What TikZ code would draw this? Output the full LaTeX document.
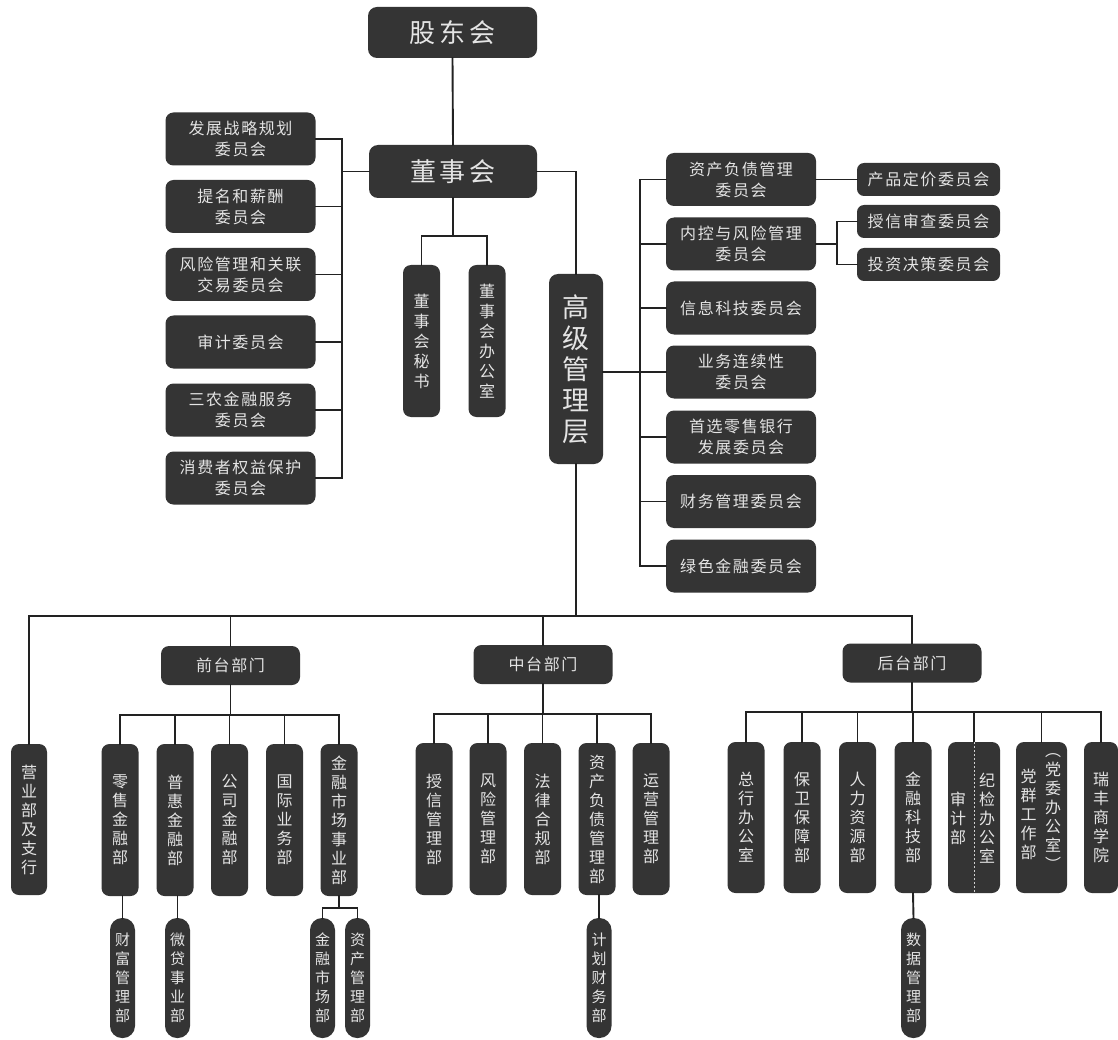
\documentclass[tikz,border=0pt]{standalone}
\usepackage{fontspec}
\newfontfamily\cjk{Noto Sans CJK SC}
\newfontfamily\cjks[LetterSpace=10]{Noto Sans CJK SC}
\newfontfamily\cjkb[LetterSpace=14]{Noto Sans CJK SC}
\definecolor{boxc}{HTML}{343434}
\definecolor{txtc}{HTML}{E4E4E4}
\definecolor{linec}{HTML}{222222}
\tikzset{
 base/.style={fill=boxc, text=txtc, inner sep=0pt, align=center, draw=none},
 hbox/.style={base, rounded corners=8pt, minimum width=150pt, minimum height=53pt, font=\cjks\fontsize{16}{21}\selectfont},
 sbox/.style={base, rounded corners=7pt, minimum width=143pt, minimum height=33pt, font=\cjks\fontsize{16}{21}\selectfont},
 bigbox/.style={base, rounded corners=9pt, font=\cjkb\fontsize{26}{31}\selectfont},
 dbox/.style={base, rounded corners=8pt, minimum width=139pt, minimum height=39pt, font=\cjks\fontsize{16}{21}\selectfont},
 vbox/.style={base, rounded corners=8pt, minimum width=37pt, minimum height=152pt, font=\cjk\fontsize{16}{19}\selectfont},
 pill/.style={base, rounded corners=12pt, minimum width=25pt, minimum height=120pt, font=\cjk\fontsize{15}{19}\selectfont},
 vtxt/.style={text=txtc, inner sep=0pt, align=center, font=\cjk\fontsize{16}{19}\selectfont},
 conn/.style={draw=linec, line width=1.9pt, line cap=rect}
}
\begin{document}
\begin{tikzpicture}[x=1pt,y=-1pt]
\fill[white] (0,0) rectangle (1118,1040);
\useasboundingbox (0,0) rectangle (1118,1040);

% top
\node[bigbox, minimum width=169pt, minimum height=51pt] (sh) at (452.5,32.5) {股东会};
\node[bigbox, minimum width=168pt, minimum height=53pt] (dsh) at (453,171.5) {董事会};

% left committees
\node[hbox] (c1) at (240.5,139) {发展战略规划\\委员会};
\node[hbox] (c2) at (240.5,206.5) {提名和薪酬\\委员会};
\node[hbox] (c3) at (240.5,274.5) {风险管理和关联\\交易委员会};
\node[hbox] (c4) at (240.5,342) {审计委员会};
\node[hbox] (c5) at (240.5,410) {三农金融服务\\委员会};
\node[hbox] (c6) at (240.5,478) {消费者权益保护\\委员会};

% secretaries
\node[vbox, font=\cjk\fontsize{16}{20}\selectfont] (ms) at (421.5,341) {董\\事\\会\\秘\\书};
\node[vbox, font=\cjk\fontsize{16}{20}\selectfont] (mo) at (487,341) {董\\事\\会\\办\\公\\室};

% senior management
\node[base, rounded corners=9pt, minimum width=54pt, minimum height=190pt, font=\cjk\fontsize{27}{31}\selectfont] (gm) at (576,369) {高\\级\\管\\理\\层};

% right committees
\node[hbox] (r1) at (741,179.5) {资产负债管理\\委员会};
\node[hbox] (r2) at (741,244) {内控与风险管理\\委员会};
\node[hbox] (r3) at (741,308) {信息科技委员会};
\node[hbox] (r4) at (741,372) {业务连续性\\委员会};
\node[hbox] (r5) at (741,437) {首选零售银行\\发展委员会};
\node[hbox] (r6) at (741,501.5) {财务管理委员会};
\node[hbox] (r7) at (741,566) {绿色金融委员会};

\node[sbox] (s1) at (928.5,179.5) {产品定价委员会};
\node[sbox] (s2) at (928.5,221.5) {授信审查委员会};
\node[sbox] (s3) at (928.5,264.5) {投资决策委员会};

% department groups
\node[vbox, minimum width=36pt, minimum height=151pt] (yy) at (29,819.5) {营\\业\\部\\及\\支\\行};
\node[dbox] (qt) at (230.5,665.5) {前台部门};
\node[dbox] (zt) at (543,664.5) {中台部门};
\node[dbox] (ht) at (912,663) {后台部门};

% front
\node[vbox] (f1) at (120,820) {零\\售\\金\\融\\部};
\node[vbox] (f2) at (175,820) {普\\惠\\金\\融\\部};
\node[vbox] (f3) at (229.5,820) {公\\司\\金\\融\\部};
\node[vbox] (f4) at (284.5,820) {国\\际\\业\\务\\部};
\node[vbox] (f5) at (339,820) {金\\融\\市\\场\\事\\业\\部};

% middle
\node[vbox] (m1) at (434,819) {授\\信\\管\\理\\部};
\node[vbox] (m2) at (488,819) {风\\险\\管\\理\\部};
\node[vbox] (m3) at (542.5,819) {法\\律\\合\\规\\部};
\node[vbox] (m4) at (597,819) {资\\产\\负\\债\\管\\理\\部};
\node[vbox] (m5) at (651,819) {运\\营\\管\\理\\部};

% back
\node[vbox, minimum height=151pt] (b1) at (746,817.5) {总\\行\\办\\公\\室};
\node[vbox, minimum height=151pt] (b2) at (802,817.5) {保\\卫\\保\\障\\部};
\node[vbox, minimum height=151pt] (b3) at (857.5,817.5) {人\\力\\资\\源\\部};
\node[vbox, minimum height=151pt] (b4) at (913,817.5) {金\\融\\科\\技\\部};
\node[vbox, minimum width=52pt, minimum height=151pt] (b5) at (974,817.5) {};
\node[vtxt] (b5a) at (958,818) {审\\计\\部};
\node[vtxt] (b5b) at (987,818) {纪\\检\\办\\公\\室};
\node[vbox, minimum width=51pt, minimum height=151pt] (b6) at (1041.5,817.5) {};
\node[vtxt] (b6a) at (1028.5,814) {党\\群\\工\\作\\部};
\node[vtxt] (b6b) at (1053,812) {︵\\党\\委\\办\\公\\室\\︶};
\node[vbox, minimum width=34pt, minimum height=151pt] (b7) at (1101,817.5) {瑞\\丰\\商\\学\\院};

% sub departments
\node[pill] (cf) at (122.5,978) {财\\富\\管\\理\\部};
\node[pill] (wd) at (177.5,978) {微\\贷\\事\\业\\部};
\node[pill] (jr) at (322.5,978) {金\\融\\市\\场\\部};
\node[pill] (zg) at (357.5,978) {资\\产\\管\\理\\部};
\node[pill] (jh) at (599,978) {计\\划\\财\\务\\部};
\node[pill] (dm) at (913.5,978) {数\\据\\管\\理\\部};

% ---------- connectors ----------
\draw[conn] (sh.south) -- (dsh.north);

\coordinate (lsp) at (342,0);
\draw[conn] (dsh.west) -- (dsh.west -| lsp);
\foreach \c in {c1,c2,c3,c4,c5,c6} \draw[conn] (\c.east) -- (\c.east -| lsp);
\draw[conn] (c1.east -| lsp) -- (c6.east -| lsp);

\coordinate (sbar) at (0,236);
\draw[conn] (dsh.south) -- (dsh.south |- sbar);
\draw[conn] (ms.north) -- (ms.north |- sbar) -- (mo.north |- sbar) -- (mo.north);

\draw[conn] (dsh.east) -| (gm.north);

\coordinate (rsp) at (640,0);
\draw[conn] (gm.east |- r4.west) -- (r4.west);
\foreach \r in {r1,r2,r3,r5,r6,r7} \draw[conn] (\r.west) -- (\r.west -| rsp);
\draw[conn] (r1.west -| rsp) -- (r7.west -| rsp);

\draw[conn] (r1.east) -- (s1.west);
\coordinate (ssp) at (837,0);
\draw[conn] (r2.east) -- (r2.east -| ssp);
\draw[conn] (s2.west) -- (s2.west -| ssp) -- (s3.west -| ssp) -- (s3.west);

\coordinate (tbar) at (0,616);
\draw[conn] (gm.south) -- (gm.south |- tbar);
\draw[conn] (yy.north) -- (yy.north |- tbar) -- (ht.north |- tbar) -- (ht.north);
\draw[conn] (qt.north) -- (qt.north |- tbar);
\draw[conn] (zt.north) -- (zt.north |- tbar);

\coordinate (fbar) at (0,715);
\draw[conn] (qt.south) -- (qt.south |- fbar);
\draw[conn] (f1.north) -- (f1.north |- fbar) -- (f5.north |- fbar) -- (f5.north);
\foreach \f in {f2,f3,f4} \draw[conn] (\f.north) -- (\f.north |- fbar);

\coordinate (mbar) at (0,714);
\draw[conn] (zt.south) -- (zt.south |- mbar);
\draw[conn] (m1.north) -- (m1.north |- mbar) -- (m5.north |- mbar) -- (m5.north);
\foreach \m in {m2,m3,m4} \draw[conn] (\m.north) -- (\m.north |- mbar);

\coordinate (bbar) at (0,712);
\draw[conn] (ht.south) -- (ht.south |- bbar);
\draw[conn] (b1.north) -- (b1.north |- bbar) -- (b7.north |- bbar) -- (b7.north);
\foreach \b in {b2,b3,b4,b5,b6} \draw[conn] (\b.north) -- (\b.north |- bbar);

\draw[txtc!80!gray, line width=1pt, dash pattern=on 2pt off 2pt] (b5.north) -- (b5.south);

\draw[conn] (cf.north |- f1.south) -- (cf.north);
\draw[conn] (wd.north |- f2.south) -- (wd.north);
\coordinate (jbar) at (0,908);
\draw[conn] (f5.south) -- (f5.south |- jbar);
\draw[conn] (jr.north) -- (jr.north |- jbar) -- (zg.north |- jbar) -- (zg.north);
\draw[conn] (jh.north |- m4.south) -- (jh.north);
\draw[conn] (b4.south) -- (dm.north);
\end{tikzpicture}
\end{document}
